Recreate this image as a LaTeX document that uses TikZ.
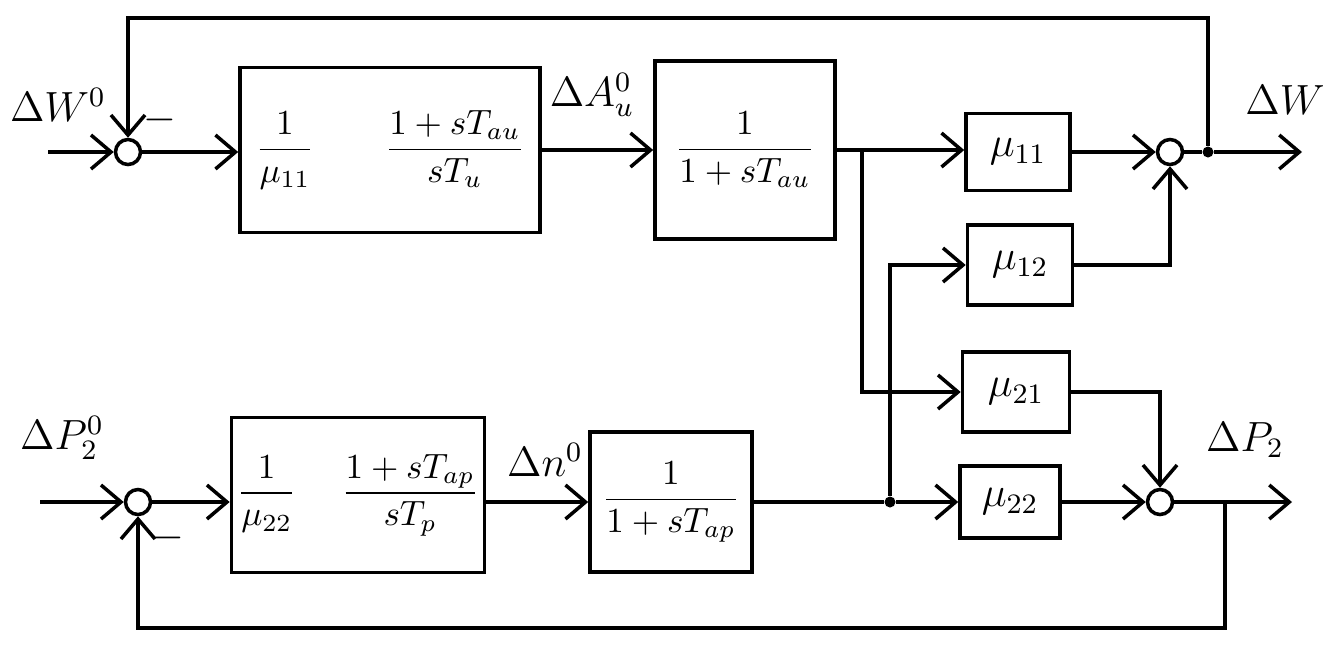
\documentclass[tikz,border=0pt]{standalone}
\usepackage{amsmath}
\usetikzlibrary{arrows.meta}
\begin{document}
\begin{tikzpicture}[x=0.01cm,y=-0.01cm,
  blk/.style={draw, line width=1pt, inner sep=0pt, font=\normalsize},
  mblk/.style={blk, font=\large},
  sumn/.style={draw, circle, line width=1pt, minimum size=0.25cm, inner sep=0pt},
  dotn/.style={fill, circle, minimum size=0.11cm, inner sep=0pt},
  sig/.style={line width=1pt, -{Straight Barb[length=2mm,width=3.4mm,line width=1pt]}},
  wire/.style={line width=1pt},
  lbl/.style={font=\large}]
\useasboundingbox (0,0) rectangle (1328,669);
% summing points
\node[sumn] (S1) at (128,152) {};
\node[sumn] (S2) at (1170,152) {};
\node[sumn] (S3) at (138,502) {};
\node[sumn] (S4) at (1160,502) {};
\node[dotn] (d1) at (1208,152) {};
\node[dotn] (d2) at (890,502) {};
% blocks
\node[blk, minimum width=3cm, minimum height=1.65cm] (A1) at (390,150)
  {$\dfrac{1}{\mu_{11}}\qquad\dfrac{1+sT_{au}}{sT_{u}}$};
\node[blk, minimum width=1.8cm, minimum height=1.78cm] (A2) at (745,150)
  {$\dfrac{1}{1+sT_{au}}$};
\node[blk, minimum width=2.53cm, minimum height=1.55cm] (B1) at (358,495)
  {$\dfrac{1}{\mu_{22}}\quad\;\dfrac{1+sT_{ap}}{sT_{p}}$};
\node[blk, minimum width=1.62cm, minimum height=1.4cm] (B2) at (671,502)
  {$\dfrac{1}{1+sT_{ap}}$};
\node[mblk, minimum width=1.04cm, minimum height=0.77cm] (M11) at (1018,152) {$\mu_{11}$};
\node[mblk, minimum width=1.05cm, minimum height=0.8cm] (M12) at (1020,265) {$\mu_{12}$};
\node[mblk, minimum width=1.07cm, minimum height=0.8cm] (M21) at (1016,392) {$\mu_{21}$};
\node[mblk, minimum width=1.0cm, minimum height=0.72cm] (M22) at (1010,502) {$\mu_{22}$};
% labels
\node[lbl] (lW0) at (58,105) {$\Delta W^{0}$};
\node[lbl] (lA0) at (592,95) {$\Delta A_{u}^{0}$};
\node[lbl] (lW) at (1285,100) {$\Delta W$};
\node[lbl] (lP0) at (62,438) {$\Delta P_{2}^{0}$};
\node[lbl] (ln0) at (545,460) {$\Delta n^{0}$};
\node[lbl] (lP) at (1245,440) {$\Delta P_{2}$};
\node[lbl] (m1) at (160,120) {$-$};
\node[lbl] (m2) at (168,538) {$-$};
% free ends
\coordinate (in1) at (48,152);
\coordinate (in2) at (40,502);
\coordinate (out1) at (1302,152);
\coordinate (out2) at (1292,502);
\coordinate (ftop) at (128,18);
\coordinate (fbr) at (1225,502);
\coordinate (fbot) at (138,628);
\coordinate (br1) at (862,150);
% connectors
\draw[sig] (in1) -- (S1.west);
\draw[sig] (S1.east) -- (A1.west |- S1);
\draw[sig] (A1.east) -- (A2.west);
\draw[wire] (A2.east) -- (br1);
\draw[sig] (br1) -- (M11.west |- br1);
\draw[sig] (br1) |- (M21.west);
\draw[sig] (M11.east |- S2) -- (S2.west);
\draw[sig] (M12.east) -| (S2.south);
\draw[wire] (S2.east) -- (d1);
\draw[sig] (d1) -- (out1);
\draw[sig] (d1) |- (ftop) -- (S1.north);
\draw[sig] (in2) -- (S3.west);
\draw[sig] (S3.east) -- (B1.west |- S3);
\draw[sig] (B1.east |- B2) -- (B2.west);
\draw[wire] (B2.east) -- (d2);
\draw[sig] (d2) -- (M22.west);
\draw[sig] (d2) |- (M12.west);
\draw[sig] (M21.east) -| (S4.north);
\draw[sig] (M22.east) -- (S4.west);
\draw[sig] (S4.east) -- (out2);
\draw[sig] (fbr) |- (fbot) -- (S3.south);
\end{tikzpicture}
\end{document}
